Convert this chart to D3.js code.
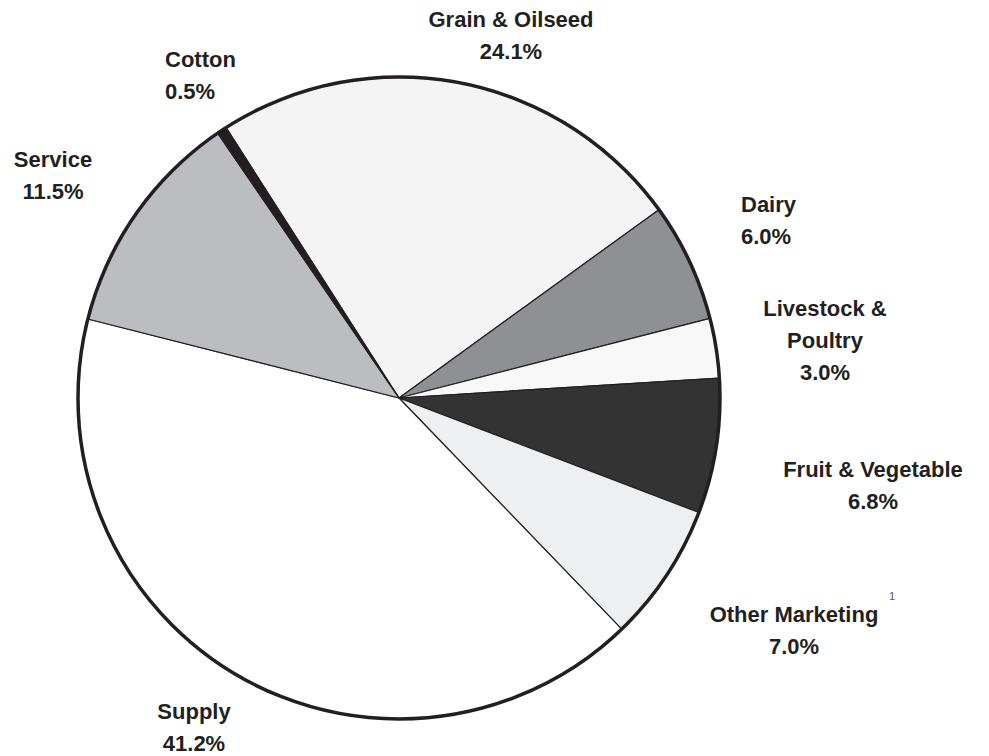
<!DOCTYPE html>
<html>
<head>
<meta charset="utf-8">
<script src="https://cdn.jsdelivr.net/npm/d3@7"></script>
<style>
  body { margin: 0; background: #fff; }
  text { font-family: "Liberation Sans", Arial, sans-serif; font-weight: bold; fill: #231f20; }
</style>
</head>
<body>
<script>
let svgWidth = 989;
let svgHeight = 756;

// data
let categories = ["Grain & Oilseed", "Dairy", "Livestock & Poultry", "Fruit & Vegetable",
    "Other Marketing", "Supply", "Service", "Cotton"];
let shares = [24.1, 6.0, 3.0, 6.8, 7.0, 41.2, 11.5, 0.5];
let shareLabels = ["24.1%", "6.0%", "3.0%", "6.8%", "7.0%", "41.2%", "11.5%", "0.5%"];
let sliceColors = ["#f3f4f3", "#8f9093", "#f8f8f8", "#333333", "#eeeff1", "#ffffff", "#bcbdc0", "#231f20"];

// label layout: lines of name text, anchor, x, first baseline
let labelLayout = {
    "Grain & Oilseed": { lines: ["Grain & Oilseed"], anchor: "middle", x: 511, y: 27 },
    "Dairy": { lines: ["Dairy"], anchor: "start", x: 741, y: 212 },
    "Livestock & Poultry": { lines: ["Livestock &", "Poultry"], anchor: "middle", x: 825, y: 316 },
    "Fruit & Vegetable": { lines: ["Fruit & Vegetable"], anchor: "middle", x: 873, y: 477 },
    "Other Marketing": { lines: ["Other Marketing"], anchor: "middle", x: 794, y: 622 },
    "Supply": { lines: ["Supply"], anchor: "middle", x: 194, y: 719 },
    "Service": { lines: ["Service"], anchor: "middle", x: 53, y: 167 },
    "Cotton": { lines: ["Cotton"], anchor: "start", x: 165, y: 67 }
};

let cx = 399, cy = 398, radius = 321;
let lineGap = 32;

let svg = d3.select("body")
    .append("svg")
    .attr("width", svgWidth)
    .attr("height", svgHeight);

let pieGroup = svg.append("g")
    .attr("transform", `translate(${cx}, ${cy})`);

let startAngle = -32.6 * Math.PI / 180;
let pie = d3.pie()
    .sort(null)
    .value(d => d.value)
    .startAngle(startAngle)
    .endAngle(startAngle + 2 * Math.PI);

let arc = d3.arc().innerRadius(0).outerRadius(radius);

let pieData = pie(categories.map((c, i) => ({ name: c, value: shares[i], color: sliceColors[i] })));

pieGroup.selectAll("path.slice")
    .data(pieData)
    .enter()
    .append("path")
    .attr("class", "slice")
    .attr("d", arc)
    .attr("fill", d => d.data.color)
    .attr("stroke", "#231f20")
    .attr("stroke-width", 1.2)
    .attr("stroke-linejoin", "round");

// outer rim
pieGroup.append("circle")
    .attr("r", radius)
    .attr("fill", "none")
    .attr("stroke", "#231f20")
    .attr("stroke-width", 3.5);

// labels
categories.forEach(function(c, i) {
    let lay = labelLayout[c];
    let t = svg.append("text")
        .attr("text-anchor", lay.anchor)
        .style("font-size", "22px");
    let lines = lay.lines.concat([shareLabels[i]]);
    lines.forEach(function(line, j) {
        t.append("tspan")
            .attr("x", lay.x)
            .attr("y", lay.y + j * lineGap)
            .text(line);
    });
});

// footnote marker next to Other Marketing
svg.append("text")
    .attr("x", 889)
    .attr("y", 600)
    .style("font-size", "11px")
    .style("font-weight", "normal")
    .style("fill", "#555")
    .text("1");
</script>
</body>
</html>
